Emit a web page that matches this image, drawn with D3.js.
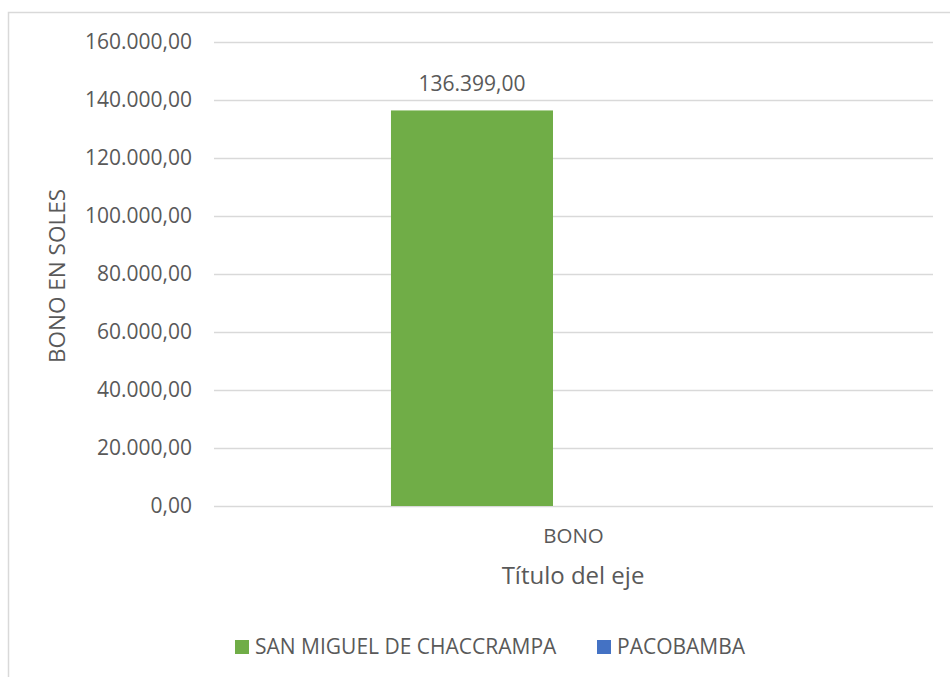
<!DOCTYPE html>
<html><head><meta charset="utf-8">
<script src="https://cdn.jsdelivr.net/npm/d3@7"></script>
<style>body{margin:0;background:#fff}svg{display:block}text{font-family:"Open Sans",sans-serif;fill:#595959}</style>
</head><body><svg id="c" width="950" height="677"></svg>
<script>
const categories = ["BONO"];
const seriesNames = ["SAN MIGUEL DE CHACCRAMPA", "PACOBAMBA"];
const seriesColors = ["#70AD47", "#4472C4"];
const seriesValues = [[136399], [0]];
const yTicks = [0, 20000, 40000, 60000, 80000, 100000, 120000, 140000, 160000];

const svg = d3.select("#c");
const fmt = v => { const s = d3.format(",.2f")(v); return s.replace(/,/g, "#").replace(".", ",").replace(/#/g, "."); };

svg.append("rect").attr("x", 8.5).attr("y", 12.5).attr("width", 960).attr("height", 700)
  .attr("fill", "none").attr("stroke", "#d9d9d9").attr("stroke-width", 1.5);

const L = 214, R = 933, T = 42, B = 506;
const y = d3.scaleLinear().domain([0, 160000]).range([B, T]);
const x0 = d3.scaleBand().domain(categories).range([L, R]).paddingInner(0.3265).paddingOuter(0.3265);
const x1 = d3.scaleBand().domain(seriesNames).range([0, x0.bandwidth()]).paddingInner(0.202);

const yAxis = d3.axisLeft(y).tickValues(yTicks).tickSize(-(R - L)).tickPadding(22).tickFormat(fmt);
const gy = svg.append("g").attr("transform", `translate(${L},0)`).call(yAxis);
gy.select(".domain").remove();
gy.selectAll(".tick line").attr("stroke", "#d9d9d9").attr("stroke-width", 1.5);
gy.selectAll(".tick text").style("font-size", "21px").attr("fill", "#595959").attr("font-family", "Open Sans");

const groups = svg.append("g").selectAll("g").data(categories).join("g")
  .attr("transform", d => `translate(${x0(d)},0)`);
seriesNames.forEach((s, si) => {
  groups.append("rect")
    .attr("x", x1(s)).attr("width", x1.bandwidth())
    .attr("y", (d, ci) => y(seriesValues[si][ci]))
    .attr("height", (d, ci) => B - y(seriesValues[si][ci]))
    .attr("fill", seriesColors[si]);
});
groups.append("text")
  .attr("x", x1(seriesNames[0]) + x1.bandwidth() / 2)
  .attr("y", (d, ci) => y(seriesValues[0][ci]) - 19)
  .attr("text-anchor", "middle").style("font-size", "21px")
  .text((d, ci) => fmt(seriesValues[0][ci]));

svg.append("g").selectAll("text").data(categories).join("text")
  .attr("x", d => x0(d) + x0.bandwidth() / 2).attr("y", 543)
  .attr("text-anchor", "middle").style("font-size", "20.5px").text(d => d);

svg.append("text").attr("x", 573).attr("y", 584).attr("text-anchor", "middle")
  .style("font-size", "24px").text("Título del eje");

svg.append("text").attr("transform", "translate(49,276) rotate(-90)")
  .attr("text-anchor", "middle").attr("dy", "0.72em").style("font-size", "22.5px").text("BONO EN SOLES");

const legendX = [235, 597];
const lg = svg.append("g").selectAll("g").data(seriesNames).join("g")
  .attr("transform", (d, i) => `translate(${legendX[i]},640)`);
lg.append("rect").attr("width", 14).attr("height", 14).attr("fill", (d, i) => seriesColors[i]);
lg.append("text").attr("x", 20).attr("y", 13.5).style("font-size", "21px").text(d => d);
</script></body></html>
